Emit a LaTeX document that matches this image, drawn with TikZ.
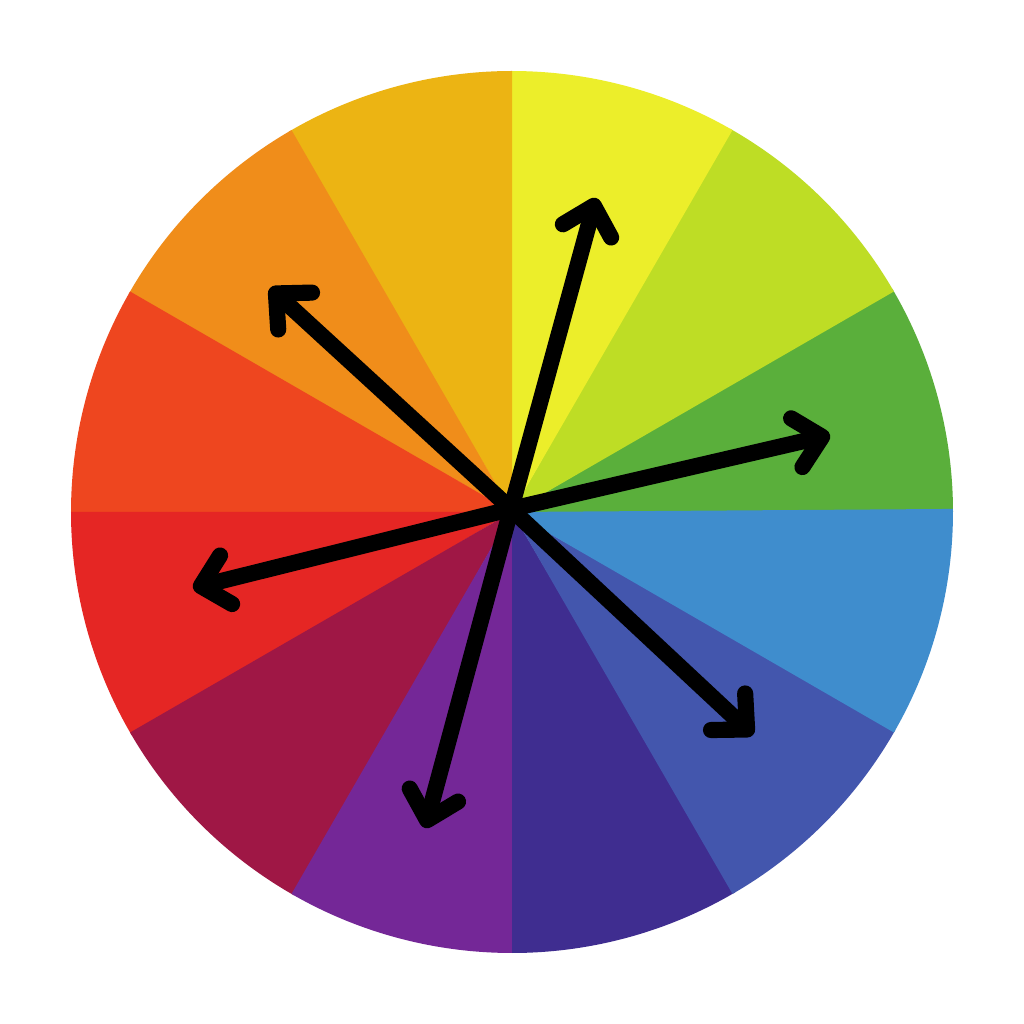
\documentclass[tikz,border=0pt]{standalone}
\usetikzlibrary{arrows.meta}
\definecolor{c0}{HTML}{5AAF3B}
\definecolor{c1}{HTML}{BEDD25}
\definecolor{c2}{HTML}{ECEE2A}
\definecolor{c3}{HTML}{ECB413}
\definecolor{c4}{HTML}{F08D1A}
\definecolor{c5}{HTML}{EE461F}
\definecolor{c6}{HTML}{E52624}
\definecolor{c7}{HTML}{9F1745}
\definecolor{c8}{HTML}{742797}
\definecolor{c9}{HTML}{3F2D90}
\definecolor{c10}{HTML}{4356AD}
\definecolor{c11}{HTML}{3F8DCD}
\tikzset{
  pointer/.style={draw=black, line width=4.6pt, line cap=round, line join=round,
    -{Straight Barb[length=0.26cm,width=0.50cm,round]}},
}
\begin{document}
\begin{tikzpicture}
\useasboundingbox (0,0) rectangle (10.24,10.24);
\fill[white] (0,0) rectangle (10.24,10.24);
\coordinate (W) at (5.12,5.12);
\foreach \i in {0,...,11}{
  \pgfmathsetmacro{\a}{30*\i}
  \fill[c\i] (W) -- ++(\a:4.41) arc[start angle=\a, end angle=\a+30.4, radius=4.41] -- cycle;
}
\coordinate (O) at (5.11,5.15);
\coordinate (T1) at (5.96,8.26);
\coordinate (T2) at (8.30,5.89);
\coordinate (T3) at (2.70,7.36);
\coordinate (T4) at (1.93,4.36);
\coordinate (T5) at (4.25,1.96);
\coordinate (T6) at (7.53,2.89);
\foreach \t in {T1,T2,T3,T4,T5,T6}{
  \draw[pointer] (O) -- (\t);
}
\end{tikzpicture}
\end{document}
